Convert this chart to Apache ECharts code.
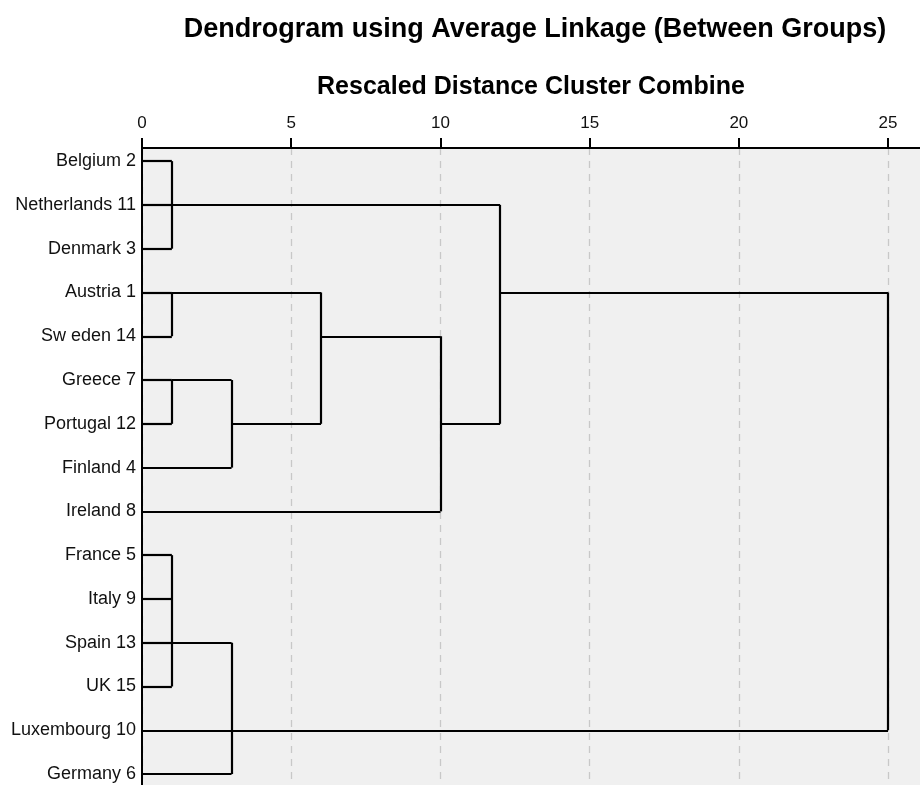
<!DOCTYPE html>
<html>
<head>
<meta charset="utf-8">
<script src="https://cdn.jsdelivr.net/npm/echarts@6/dist/echarts.min.js"></script>
<style>
  html, body { margin: 0; padding: 0; background: #fff; }
  #chart { width: 920px; height: 785px; }
</style>
</head>
<body>
<div id="chart"></div>
<script>
// leaves, top to bottom
const leaves = ['Belgium 2', 'Netherlands 11', 'Denmark 3', 'Austria 1', 'Sw eden 14',
  'Greece 7', 'Portugal 12', 'Finland 4', 'Ireland 8', 'France 5', 'Italy 9',
  'Spain 13', 'UK 15', 'Luxembourg 10', 'Germany 6'];

// merge steps: rescaled distance, members (>=0 leaf row, <0 = earlier merge -(i+1)), row the joined line leaves from
const mergeDist = [1, 1, 1, 3, 6, 10, 12, 1, 3, 25];
const mergeKids = [[0, 1, 2], [3, 4], [5, 6], [-3, 7], [-2, -4], [-5, 8], [-1, -6], [9, 10, 11, 12], [-8, 13, 14], [-7, -9]];
const mergeRow = [1, 3, 5, 6, 4, 6, 3, 11, 13, 3];

const xTicks = [0, 5, 10, 15, 20, 25];

// build the segments of the tree from the merges
const segments = [];
mergeDist.forEach((d, i) => {
  const rows = [];
  mergeKids[i].forEach(k => {
    const row = k >= 0 ? k : mergeRow[-k - 1];
    const from = k >= 0 ? 0 : mergeDist[-k - 1];
    rows.push(row);
    segments.push({ coords: [[from, row], [d, row]] });
  });
  segments.push({ coords: [[d, Math.min(...rows)], [d, Math.max(...rows)]] });
});

const chart = echarts.init(document.getElementById('chart'));
const font = '"Liberation Sans", Arial, sans-serif';

chart.setOption({
  animation: false,
  title: {
    text: 'Dendrogram using Average Linkage (Between Groups)',
    left: 530,
    top: 11,
    textAlign: 'center',
    textStyle: { fontFamily: font, fontSize: 27, fontWeight: 'bold', color: '#000' }
  },
  grid: { left: 142, top: 148, right: 0, bottom: 0, show: true, backgroundColor: '#f0f0f0', borderWidth: 0 },
  xAxis: {
    type: 'value',
    position: 'top',
    min: 0,
    max: 26.07,
    interval: 5,
    name: 'Rescaled Distance Cluster Combine',
    nameLocation: 'middle',
    nameGap: 48,
    nameTextStyle: { fontFamily: font, fontSize: 25, fontWeight: 'bold', color: '#000' },
    axisLine: { onZero: false, lineStyle: { color: '#000', width: 2 } },
    axisTick: { length: 10, lineStyle: { color: '#000', width: 2 }, customValues: xTicks },
    axisLabel: { customValues: xTicks, fontFamily: font, fontSize: 17, color: '#111', margin: 16 },
    splitLine: { show: true, lineStyle: { color: '#c8c8c8', type: [7, 6], width: 1.3 } }
  },
  yAxis: {
    type: 'value',
    inverse: true,
    min: -0.3,
    max: 14.25,
    axisLine: { show: true, onZero: false, lineStyle: { color: '#000', width: 2 } },
    axisTick: { show: false },
    splitLine: { show: false },
    axisLabel: {
      customValues: leaves.map((_, i) => i),
      formatter: v => leaves[Math.round(v)],
      fontFamily: font, fontSize: 18, color: '#111', margin: 6
    }
  },
  series: [{
    type: 'lines',
    coordinateSystem: 'cartesian2d',
    polyline: false,
    silent: true,
    lineStyle: { color: '#000', width: 2.2, opacity: 1 },
    data: segments
  }]
});
</script>
</body>
</html>
